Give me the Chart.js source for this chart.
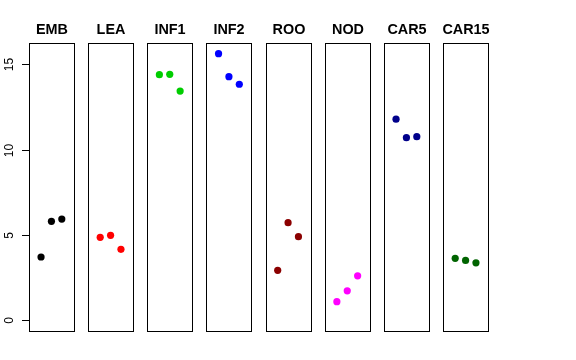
<!DOCTYPE html>
<html>
<head>
<meta charset="utf-8">
<script src="https://cdn.jsdelivr.net/npm/chart.js@4.4.1/dist/chart.umd.min.js"></script>
<style>
  html, body { margin: 0; padding: 0; background: #fff; }
  #wrap { width: 576px; height: 360px; }
</style>
</head>
<body>
<div id="wrap"><canvas id="myChart" width="576" height="360"></canvas></div>
<script>
const categories = ['EMB', 'LEA', 'INF1', 'INF2', 'ROO', 'NOD', 'CAR5', 'CAR15'];
const colors = ['#000000', '#FF0000', '#00CD00', '#0000FF', '#8B0000', '#FF00FF', '#00008B', '#006400'];
const EMB = [3.71, 5.80, 5.93];
const LEA = [4.86, 4.98, 4.16];
const INF1 = [14.39, 14.41, 13.43];
const INF2 = [15.62, 14.27, 13.83];
const ROO = [2.93, 5.72, 4.90];
const NOD = [1.09, 1.73, 2.61];
const CAR5 = [11.78, 10.70, 10.76];
const CAR15 = [3.63, 3.51, 3.37];
const seriesValues = [EMB, LEA, INF1, INF2, ROO, NOD, CAR5, CAR15];
const yTicks = [0, 5, 10, 15];

// each panel spans x 0..4 (plus 4% like R), panels placed side by side
const pitch = 5.7;
const padX = 0.16;
const yMax = Math.max(...seriesValues.flat());
const padY = yMax * 0.04;

const datasets = categories.map((name, i) => ({
    label: name,
    data: seriesValues[i].map((v, j) => ({ x: i * pitch + j + 1, y: v })),
    backgroundColor: colors[i],
    borderWidth: 0,
    pointRadius: 3.6,
    pointHoverRadius: 3.6
}));

const panelPlugin = {
    id: 'panels',
    afterDraw(chart) {
        const ctx = chart.ctx;
        const xs = chart.scales.x;
        const ys = chart.scales.y;
        const top = Math.round(chart.chartArea.top) + 0.5;
        const bottom = Math.round(chart.chartArea.bottom) + 0.5;
        ctx.save();
        ctx.strokeStyle = '#000';
        ctx.lineWidth = 1;
        ctx.fillStyle = '#000';
        categories.forEach((name, i) => {
            const l = Math.round(xs.getPixelForValue(i * pitch - padX)) + 0.5;
            const r = Math.round(xs.getPixelForValue(i * pitch + 4 + padX)) + 0.5;
            ctx.strokeRect(l, top, r - l, bottom - top);
            ctx.font = 'bold 14.4px "Liberation Sans", Arial, sans-serif';
            ctx.textAlign = 'center';
            ctx.textBaseline = 'alphabetic';
            ctx.fillText(name, (l + r) / 2, 34);
        });
        // y axis ticks and rotated labels
        const left = Math.round(xs.getPixelForValue(-padX)) + 0.5;
        ctx.font = '12px "Liberation Sans", Arial, sans-serif';
        yTicks.forEach(t => {
            const y = Math.round(ys.getPixelForValue(t)) + 0.5;
            ctx.beginPath();
            ctx.moveTo(left - 7.5, y);
            ctx.lineTo(left, y);
            ctx.stroke();
            ctx.save();
            ctx.translate(12.5, y);
            ctx.rotate(-Math.PI / 2);
            ctx.textAlign = 'center';
            ctx.textBaseline = 'alphabetic';
            ctx.fillText(String(t), 0, 0);
            ctx.restore();
        });
        ctx.restore();
    }
};

new Chart(document.getElementById('myChart'), {
    type: 'scatter',
    data: { datasets: datasets },
    options: {
        responsive: false,
        animation: false,
        layout: { padding: { left: 29, top: 43, right: 88, bottom: 29 } },
        plugins: {
            legend: { display: false },
            tooltip: { enabled: false }
        },
        scales: {
            x: {
                type: 'linear',
                display: false,
                min: -padX,
                max: (categories.length - 1) * pitch + 4 + padX
            },
            y: {
                type: 'linear',
                display: false,
                min: -padY,
                max: yMax + padY
            }
        }
    },
    plugins: [panelPlugin]
});
</script>
</body>
</html>
